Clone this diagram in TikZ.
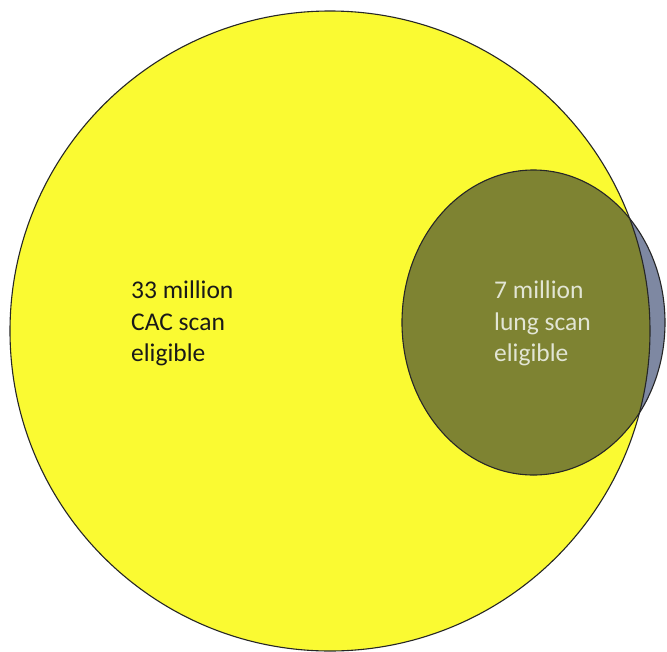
\documentclass[tikz,border=0pt]{standalone}
\usepackage{fontspec}
\setmainfont{Carlito}
\definecolor{bigyellow}{RGB}{250,250,50}
\definecolor{overlapolive}{RGB}{126,131,50}
\definecolor{lunegray}{RGB}{126,136,162}
\definecolor{lighttext}{RGB}{226,229,212}
\begin{document}
\begin{tikzpicture}[x=1pt,y=-1pt,
  outline/.style={draw=black!85,line width=1.1pt},
  lbl/.style={inner sep=0pt,anchor=north west,align=left,font=\fontsize{25.5}{31.5}\selectfont}]
\useasboundingbox (0,0) rectangle (667,651);
\fill[white] (0,0) rectangle (667,651);
\fill[bigyellow] (330,331) circle (320);
\fill[lunegray] (533.5,322.5) ellipse (131.5 and 152.5);
\begin{scope}
  \clip (330,331) circle (320);
  \fill[overlapolive] (533.5,322.5) ellipse (131.5 and 152.5);
\end{scope}
\draw[outline] (330,331) circle (320);
\draw[outline] (533.5,322.5) ellipse (131.5 and 152.5);
\node[lbl,text=black!90] (cac) at (131,281) {33 million\\CAC scan\\eligible};
\node[lbl,text=lighttext] (lung) at (494,281) {7 million\\lung scan\\eligible};
\end{tikzpicture}
\end{document}
